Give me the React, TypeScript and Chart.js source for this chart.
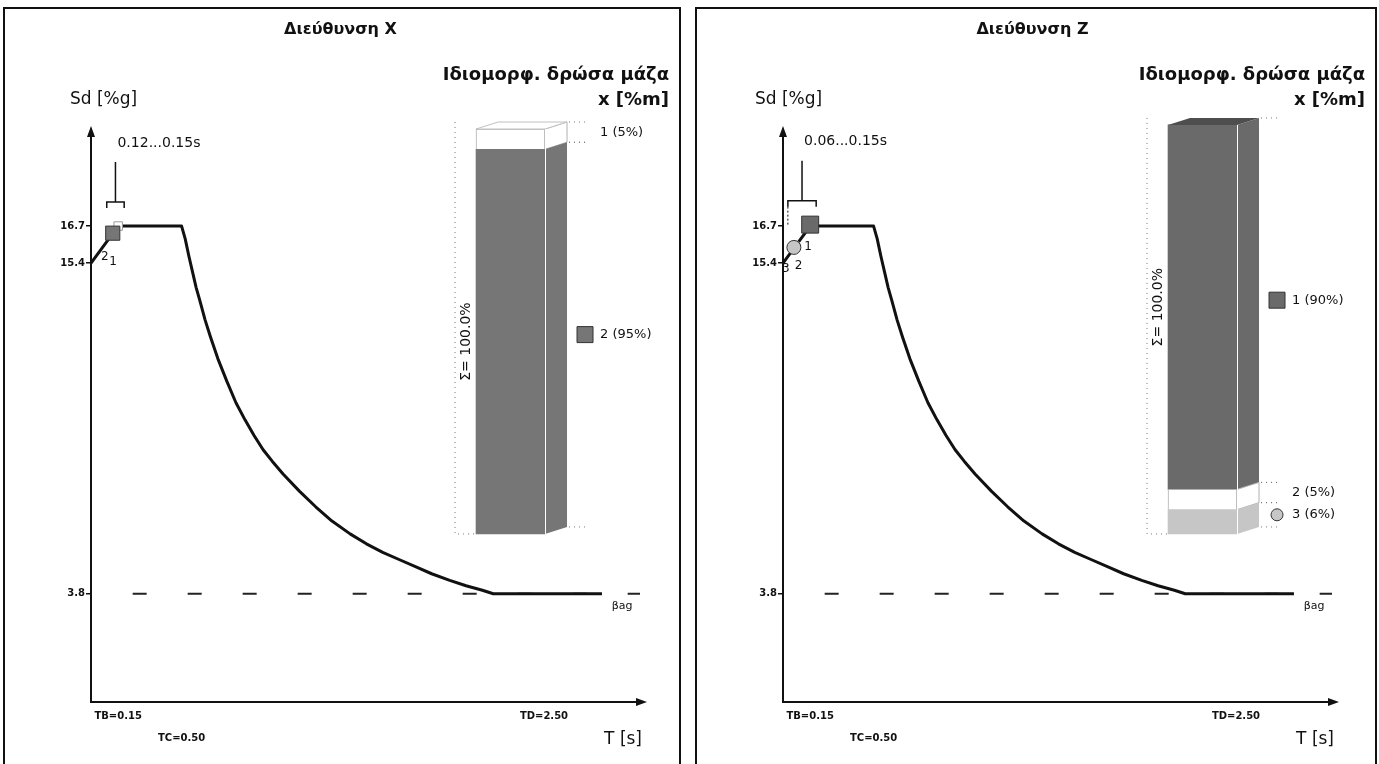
import React, { useEffect, useRef } from 'react';
import { Chart, registerables } from 'chart.js';

Chart.register(...registerables);

const FONT = "'DejaVu Sans', Verdana, sans-serif";

// Design spectrum Sd(T)
const spectrumT = [0, 0.15, 0.5, 0.52, 0.54, 0.56, 0.58, 0.6, 0.63, 0.66, 0.7, 0.75, 0.8, 0.85, 0.9, 0.95, 1.0, 1.06, 1.15, 1.24, 1.33, 1.43, 1.52, 1.61, 1.7, 1.8, 1.88, 1.98, 2.07, 2.16, 2.22, 2.82];
const spectrumSd = [15.4, 16.7, 16.7, 16.25, 15.65, 15.1, 14.55, 14.1, 13.4, 12.8, 12.05, 11.25, 10.5, 9.9, 9.35, 8.85, 8.45, 8.0, 7.4, 6.85, 6.35, 5.9, 5.55, 5.25, 5.0, 4.72, 4.5, 4.27, 4.08, 3.92, 3.8, 3.8];

// Lower bound beta*ag (dashed)
const betaT = [0.23, 3.03];
const betaSd = [3.8, 3.8];
const betaLabel = 'βag';

// Axis ticks
const sdTicks = [3.8, 15.4, 16.7];
const tTicks = [0.15, 0.5, 2.5];
const tTickLabels = ['TB=0.15', 'TC=0.50', 'TD=2.50'];

const axisLabelY = 'Sd [%g]';
const axisLabelX = 'T [s]';
const massTitle = ['Ιδιομορφ. δρώσα μάζα', 'x [%m]'];
const massSumLabel = 'Σ= 100.0%';

// Direction X
const titleX = 'Διεύθυνση X';
const modeNamesX = ['1', '2'];
const modePeriodsX = [0.15, 0.12];
const modeSdX = [16.7, 16.45];
const modeMassX = [5, 95];
const periodRangeX = [0.12, 0.15];

// Direction Z
const titleZ = 'Διεύθυνση Z';
const modeNamesZ = ['1', '2', '3'];
const modePeriodsZ = [0.15, 0.07, 0.06];
const modeSdZ = [16.75, 16.0, 15.95];
const modeMassZ = [90, 5, 6];
const periodRangeZ = [0.06, 0.15];

type ModeStyle = { fill: string; shape: 'rect' | 'circle'; r: number; lx: number; ly: number; blank: boolean };

const stylesX: ModeStyle[] = [
  { fill: '#ffffff', shape: 'rect', r: 6, lx: -5, ly: 36, blank: true },
  { fill: '#767676', shape: 'rect', r: 10, lx: -8, ly: 24, blank: false },
];
const stylesZ: ModeStyle[] = [
  { fill: '#6a6a6a', shape: 'rect', r: 12, lx: -2, ly: 22, blank: false },
  { fill: '#ffffff', shape: 'circle', r: 5, lx: 3, ly: 20, blank: true },
  { fill: '#c6c6c6', shape: 'circle', r: 7, lx: -8, ly: 21, blank: false },
];

type PanelDef = {
  key: string; left: number; width: number; title: string;
  names: string[]; periods: number[]; sd: number[]; mass: number[]; range: number[];
  styles: ModeStyle[]; sdLabelDx: number; rangeDrop: boolean;
};

const panels: PanelDef[] = [
  { key: 'x', left: 3, width: 678, title: titleX, names: modeNamesX, periods: modePeriodsX, sd: modeSdX, mass: modeMassX, range: periodRangeX, styles: stylesX, sdLabelDx: -21, rangeDrop: false },
  { key: 'z', left: 695, width: 682, title: titleZ, names: modeNamesZ, periods: modePeriodsZ, sd: modeSdZ, mass: modeMassZ, range: periodRangeZ, styles: stylesZ, sdLabelDx: -28, rangeDrop: true },
];

const CANVAS_H = 755;
const AREA_RIGHT = 635;

function makeDecor(p: PanelDef, barIdx: number[]) {
  return {
    id: 'decor-' + p.key,
    afterDatasetsDraw(chart: any) {
      const ctx: CanvasRenderingContext2D = chart.ctx;
      const ca = chart.chartArea;
      const xs = chart.scales.x;
      const ys = chart.scales.y;
      ctx.save();

      // axis arrow heads
      ctx.fillStyle = '#111';
      ctx.beginPath();
      ctx.moveTo(ca.left, ca.top - 6);
      ctx.lineTo(ca.left - 4, ca.top + 5);
      ctx.lineTo(ca.left + 4, ca.top + 5);
      ctx.closePath();
      ctx.fill();
      ctx.beginPath();
      ctx.moveTo(ca.right + 7, ca.bottom);
      ctx.lineTo(ca.right - 4, ca.bottom - 4);
      ctx.lineTo(ca.right - 4, ca.bottom + 4);
      ctx.closePath();
      ctx.fill();

      // axis titles
      ctx.fillStyle = '#111';
      ctx.font = `17px ${FONT}`;
      ctx.textBaseline = 'middle';
      ctx.textAlign = 'left';
      ctx.fillText(axisLabelY, ca.left + p.sdLabelDx, ca.top - 32);
      ctx.textAlign = 'right';
      ctx.fillText(axisLabelX, ca.right + 2, ca.bottom + 38);

      // mass legend title
      ctx.font = `bold 18px ${FONT}`;
      ctx.textAlign = 'right';
      ctx.fillText(massTitle[0], chart.width - 10, ca.top - 57);
      ctx.fillText(massTitle[1], chart.width - 10, ca.top - 32);

      // beta*ag label
      ctx.font = `11px ${FONT}`;
      ctx.textAlign = 'center';
      ctx.fillText(betaLabel, xs.getPixelForValue(betaT[1]) - 18, ys.getPixelForValue(betaSd[1]) + 12);

      // period range bracket
      const rx0 = xs.getPixelForValue(p.range[0]) - 6;
      const rx1 = xs.getPixelForValue(p.range[1]) + 6;
      const ry = ys.getPixelForValue(Math.max(...p.sd)) - 24;
      const rc = (rx0 + rx1) / 2;
      ctx.strokeStyle = '#111';
      ctx.lineWidth = 1.5;
      ctx.beginPath();
      ctx.moveTo(rx0, ry + 6);
      ctx.lineTo(rx0, ry);
      ctx.lineTo(rx1, ry);
      ctx.lineTo(rx1, ry + 6);
      ctx.moveTo(rc, ry);
      ctx.lineTo(rc, ry - 40);
      ctx.stroke();
      if (p.rangeDrop) {
        ctx.setLineDash([2, 2]);
        ctx.lineWidth = 1;
        ctx.beginPath();
        ctx.moveTo(rx0, ry + 6);
        ctx.lineTo(rx0, ry + 26);
        ctx.stroke();
        ctx.setLineDash([]);
      }
      ctx.font = `14px ${FONT}`;
      ctx.textAlign = 'left';
      ctx.fillText(`${p.range[0].toFixed(2)}...${p.range[1].toFixed(2)}s`, rc + 2, ry - 59);

      // mode number labels next to the spectrum markers
      ctx.font = `12px ${FONT}`;
      ctx.textAlign = 'center';
      p.names.forEach((n, i) => {
        const px = xs.getPixelForValue(p.periods[i]);
        const py = ys.getPixelForValue(p.sd[i]);
        ctx.fillText(n, px + p.styles[i].lx, py + p.styles[i].ly);
      });

      // pseudo 3D stacked mass bar
      const DX = 22;
      const DY = 7;
      const segs = barIdx.map((di) => {
        const el: any = chart.getDatasetMeta(di).data[0];
        const pr = el.getProps(['x', 'y', 'base', 'width'], true);
        const l = pr.x - pr.width / 2;
        const r = pr.x + pr.width / 2;
        return { l, r, top: Math.min(pr.y, pr.base), bot: Math.max(pr.y, pr.base) };
      });
      const barL = Math.min(...segs.map((s) => s.l));
      const barR = Math.max(...segs.map((s) => s.r));
      const barTop = Math.min(...segs.map((s) => s.top));
      const barBot = Math.max(...segs.map((s) => s.bot));

      segs.forEach((s, i) => {
        const st = p.styles[i];
        ctx.fillStyle = st.fill;
        ctx.beginPath();
        ctx.moveTo(s.r, s.top);
        ctx.lineTo(s.r + DX, s.top - DY);
        ctx.lineTo(s.r + DX, s.bot - DY);
        ctx.lineTo(s.r, s.bot);
        ctx.closePath();
        ctx.fill();
        if (st.blank) {
          ctx.strokeStyle = '#b0b0b0';
          ctx.lineWidth = 1;
          ctx.stroke();
        }
      });
      // top face
      const topI = segs.findIndex((s) => s.top === barTop);
      const topSt = p.styles[topI];
      ctx.fillStyle = topSt.blank ? '#ffffff' : '#4e4e4e';
      ctx.beginPath();
      ctx.moveTo(barL, barTop);
      ctx.lineTo(barL + DX, barTop - DY);
      ctx.lineTo(barR + DX, barTop - DY);
      ctx.lineTo(barR, barTop);
      ctx.closePath();
      ctx.fill();
      if (topSt.blank) {
        ctx.strokeStyle = '#c0c0c0';
        ctx.lineWidth = 1;
        ctx.stroke();
      }
      // edge between front and side faces
      ctx.strokeStyle = '#ffffff';
      ctx.lineWidth = 1;
      ctx.beginPath();
      ctx.moveTo(barR + 0.5, barTop);
      ctx.lineTo(barR + 0.5, barBot);
      ctx.stroke();

      // dotted guides
      ctx.strokeStyle = '#777';
      ctx.lineWidth = 1;
      ctx.setLineDash([1, 4]);
      ctx.beginPath();
      ctx.moveTo(barL - 21, barTop - DY);
      ctx.lineTo(barL - 21, barBot);
      ctx.lineTo(barL, barBot);
      segs.forEach((s) => {
        ctx.moveTo(s.r + DX + 2, s.top - DY);
        ctx.lineTo(s.r + DX + 20, s.top - DY);
        ctx.moveTo(s.r + DX + 2, s.bot - DY);
        ctx.lineTo(s.r + DX + 20, s.bot - DY);
      });
      ctx.stroke();
      ctx.setLineDash([]);

      // legend: marker + label per mode
      ctx.font = `13px ${FONT}`;
      ctx.textAlign = 'left';
      segs.forEach((s, i) => {
        const st = p.styles[i];
        const cy = (s.top + s.bot) / 2 - DY;
        const mx = barR + DX + 10;
        if (!st.blank) {
          ctx.fillStyle = st.fill;
          ctx.strokeStyle = '#333';
          ctx.lineWidth = 1;
          ctx.beginPath();
          if (st.shape === 'rect') {
            ctx.rect(mx, cy - 8, 16, 16);
          } else {
            ctx.arc(mx + 8, cy, 6, 0, Math.PI * 2);
          }
          ctx.fill();
          ctx.stroke();
        }
        ctx.fillStyle = '#111';
        ctx.fillText(`${p.names[i]} (${p.mass[i]}%)`, mx + 23, cy);
      });

      // sum label, rotated
      const big = p.mass.indexOf(Math.max(...p.mass));
      const bs = segs[big];
      ctx.save();
      ctx.translate(barL - 10, (bs.top + bs.bot) / 2);
      ctx.rotate(-Math.PI / 2);
      ctx.font = `14px ${FONT}`;
      ctx.textAlign = 'center';
      ctx.textBaseline = 'middle';
      ctx.fillStyle = '#111';
      ctx.fillText(massSumLabel, 0, 0);
      ctx.restore();

      ctx.restore();
    },
  };
}

function buildConfig(p: PanelDef, canvasW: number): any {
  const datasets: any[] = [];

  // spectrum
  datasets.push({
    type: 'line',
    label: 'Sd',
    data: spectrumT.map((t, i) => ({ x: t, y: spectrumSd[i] })),
    borderColor: '#111',
    borderWidth: 3,
    pointRadius: 0,
    tension: 0,
    borderJoinStyle: 'round',
    order: 3,
    clip: false,
  });
  // beta*ag lower bound
  datasets.push({
    type: 'line',
    label: betaLabel,
    data: betaT.map((t, i) => ({ x: t, y: betaSd[i] })),
    borderColor: '#222',
    borderWidth: 2,
    borderDash: [14, 41],
    pointRadius: 0,
    order: 4,
    clip: false,
  });
  // mode markers on the spectrum
  p.names.forEach((n, i) => {
    const st = p.styles[i];
    datasets.push({
      type: 'scatter',
      label: 'mode ' + n,
      data: [{ x: p.periods[i], y: p.sd[i] }],
      pointStyle: st.shape,
      pointRadius: st.r,
      backgroundColor: st.fill,
      borderColor: st.blank ? '#999' : '#333',
      borderWidth: 1,
      order: st.blank ? 2 : 1,
      clip: false,
    });
  });
  // stacked mass bar (bottom segment = last mode)
  const barIdx: number[] = new Array(p.names.length);
  for (let i = p.names.length - 1; i >= 0; i--) {
    const st = p.styles[i];
    barIdx[i] = datasets.length;
    datasets.push({
      type: 'bar',
      label: `${p.names[i]} (${p.mass[i]}%)`,
      data: [{ x: 0, y: p.mass[i] }],
      xAxisID: 'xb',
      yAxisID: 'yb',
      stack: 'mass',
      grouped: false,
      barThickness: 69,
      maxBarThickness: 69,
      barPercentage: 1,
      backgroundColor: st.fill,
      borderColor: st.blank ? '#b0b0b0' : st.fill,
      borderWidth: st.blank ? 1 : 0,
      order: 5,
      clip: false,
    });
  }

  return {
    type: 'line',
    data: { datasets },
    plugins: [makeDecor(p, barIdx)],
    options: {
      responsive: false,
      maintainAspectRatio: false,
      devicePixelRatio: 1,
      animation: false,
      events: [],
      layout: { padding: { left: 36, right: canvasW - AREA_RIGHT, top: 0, bottom: 12 } },
      plugins: {
        legend: { display: false },
        tooltip: { enabled: false },
        title: {
          display: true,
          text: p.title,
          color: '#111',
          font: { family: FONT, size: 16, weight: 'bold' },
          padding: { top: 11, bottom: 92.8 },
        },
      },
      scales: {
        x: {
          type: 'linear',
          min: 0,
          max: 3.03,
          afterBuildTicks: (s: any) => { s.ticks = tTicks.map((v) => ({ value: v })); },
          afterFit: (s: any) => { s.height = 50; },
          grid: { display: false, drawTicks: false },
          border: { display: true, color: '#111', width: 2 },
          ticks: {
            autoSkip: false,
            maxRotation: 0,
            padding: 3,
            color: '#111',
            font: { family: FONT, size: 10, weight: 'bold', lineHeight: 2.2 },
            callback: (v: any) => {
              const k = tTicks.indexOf(Number(v));
              const lbl = tTickLabels[k] ?? '';
              return k % 2 === 1 ? ['', lbl] : lbl;
            },
          },
        },
        y: {
          type: 'linear',
          min: 0,
          max: 20,
          afterBuildTicks: (s: any) => { s.ticks = sdTicks.map((v) => ({ value: v })); },
          afterFit: (s: any) => { s.width = 50; },
          grid: { drawOnChartArea: false, drawTicks: true, tickLength: 5, color: '#111', lineWidth: 1.5 },
          border: { display: true, color: '#111', width: 2 },
          ticks: {
            autoSkip: false,
            padding: 1,
            color: '#111',
            font: { family: FONT, size: 10, weight: 'bold' },
            callback: (v: any) => Number(v).toFixed(1),
          },
        },
        xb: { type: 'linear', display: false, stacked: true, offset: false, grid: { offset: false }, min: -3.24, max: 1 },
        yb: { type: 'linear', display: false, stacked: true, offset: false, min: -41.5, max: 99.26 },
      },
    },
  };
}

function Panel({ p }: { p: PanelDef }) {
  const ref = useRef<HTMLCanvasElement>(null);
  const cw = p.width - 4;
  useEffect(() => {
    const canvas = ref.current;
    if (!canvas) return;
    const chart = new Chart(canvas, buildConfig(p, cw));
    return () => chart.destroy();
  }, []);
  return (
    <div
      style={{
        position: 'absolute',
        left: p.left,
        top: 7,
        width: p.width,
        height: 800,
        border: '2px solid #111',
        boxSizing: 'border-box',
        background: '#fff',
      }}
    >
      <canvas ref={ref} width={cw} height={CANVAS_H} style={{ display: 'block', width: cw, height: CANVAS_H }} />
    </div>
  );
}

export default function App() {
  return (
    <div
      style={{
        position: 'absolute',
        left: 0,
        top: 0,
        width: 1379,
        height: 764,
        overflow: 'hidden',
        background: '#fff',
      }}
    >
      {panels.map((p) => (
        <Panel key={p.key} p={p} />
      ))}
    </div>
  );
}
